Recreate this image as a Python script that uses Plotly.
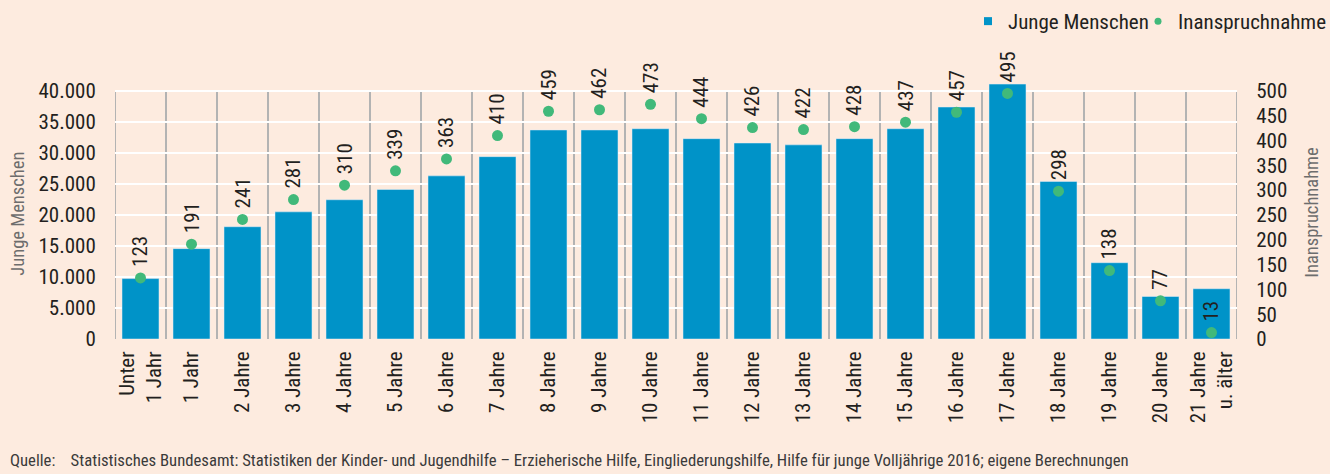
import plotly.graph_objects as go

categories = ["Unter<br>1 Jahr", "1 Jahr", "2 Jahre", "3 Jahre", "4 Jahre", "5 Jahre",
              "6 Jahre", "7 Jahre", "8 Jahre", "9 Jahre", "10 Jahre", "11 Jahre",
              "12 Jahre", "13 Jahre", "14 Jahre", "15 Jahre", "16 Jahre", "17 Jahre",
              "18 Jahre", "19 Jahre", "20 Jahre", "21 Jahre<br>u. älter"]
junge_menschen = [9740, 14570, 18100, 20500, 22450, 24100, 26300, 29400, 33700, 33700,
                  33900, 32300, 31600, 31300, 32300, 33900, 37400, 41100, 25400, 12300,
                  6850, 8100]
inanspruchnahme = [123, 191, 241, 281, 310, 339, 363, 410, 459, 462, 473, 444, 426, 422,
                   428, 437, 457, 495, 298, 138, 77, 13]
left_ticks = [0, 5000, 10000, 15000, 20000, 25000, 30000, 35000, 40000]
left_tick_text = ["0", "5.000", "10.000", "15.000", "20.000", "25.000", "30.000", "35.000", "40.000"]
right_ticks = [0, 50, 100, 150, 200, 250, 300, 350, 400, 450, 500]

FONT = "Liberation Sans Narrow, Arial Narrow, Roboto Condensed, DejaVu Sans Condensed, sans-serif"
BG = "#fdebdf"
BLUE = "#0093c8"
GREEN = "#41b97a"
TXT = "#231f20"

fig = go.Figure()
fig.add_trace(go.Bar(x=categories, y=junge_menschen, marker_color=BLUE, width=0.725,
                     showlegend=False, yaxis="y", hoverinfo="skip"))
fig.add_trace(go.Scatter(x=categories, y=inanspruchnahme, mode="markers", yaxis="y2",
                         marker=dict(color=GREEN, size=11), showlegend=False, hoverinfo="skip"))
# legend entries
fig.add_trace(go.Scatter(x=[None], y=[None], mode="markers", name="Junge Menschen",
                         legend="legend",
                         marker=dict(color=BLUE, size=8, symbol="square")))
fig.add_trace(go.Scatter(x=[None], y=[None], mode="markers", name="Inanspruchnahme",
                         legend="legend2",
                         marker=dict(color=GREEN, size=7, symbol="circle")))

# category separators
for i in range(len(categories) + 1):
    fig.add_shape(type="line", xref="x", yref="y", x0=i - 0.5, x1=i - 0.5,
                  y0=0, y1=left_ticks[-1], line=dict(color="#b3b3b3", width=2), layer="below")

# data labels
for c, v in zip(categories, inanspruchnahme):
    fig.add_annotation(x=c, y=v, yref="y2", text=str(v), textangle=-90, showarrow=False,
                       xanchor="center", yanchor="bottom", yshift=9,
                       font=dict(family=FONT, size=21, color=TXT))

# axis titles
fig.add_annotation(xref="paper", yref="paper", x=-0.0865, y=0.426, text="Junge Menschen",
                   textangle=-90, showarrow=False, xanchor="center", yanchor="middle",
                   font=dict(family=FONT, size=18.5, color="#6d6d6d"))
fig.add_annotation(xref="paper", yref="paper", x=1.0668, y=0.4295, text="Inanspruchnahme",
                   textangle=-90, showarrow=False, xanchor="center", yanchor="middle",
                   font=dict(family=FONT, size=18.5, color="#6d6d6d"))
# source
fig.add_annotation(xref="paper", yref="paper", x=-0.0954, y=-0.4126, xanchor="left", yanchor="middle",
                   text="Quelle:    Statistisches Bundesamt: Statistiken der Kinder- und Jugendhilfe – Erzieherische Hilfe, Eingliederungshilfe, Hilfe für junge Volljährige 2016; eigene Berechnungen",
                   showarrow=False, font=dict(family=FONT, size=16.7, color="#3a3a3a"))

legend_common = dict(orientation="h", xanchor="left", y=1.08, yanchor="middle",
                     font=dict(size=21, color=TXT), bgcolor="rgba(0,0,0,0)", itemwidth=30)

fig.update_layout(
    width=1330, height=474,
    margin=dict(l=115, r=93, t=45, b=134.5, autoexpand=False),
    paper_bgcolor=BG, plot_bgcolor=BG,
    font=dict(family=FONT, size=21, color=TXT),
    hovermode=False,
    xaxis=dict(type="category", range=[-0.5, len(categories) - 0.5], autorange=False,
               automargin=False, tickangle=-90, showgrid=False, zeroline=False, showline=False,
               ticks="outside", ticklen=3, tickcolor=BG, tickfont=dict(size=21, color=TXT)),
    yaxis=dict(range=[0, 47400], autorange=False, automargin=False, tickvals=left_ticks,
               ticktext=left_tick_text,
               showgrid=True, gridcolor="white", gridwidth=1.5, zeroline=False, showline=False,
               ticks="outside", ticklen=14, tickcolor=BG, tickfont=dict(size=21, color=TXT)),
    yaxis2=dict(range=[0, 592.5], autorange=False, automargin=False, tickvals=right_ticks,
                overlaying="y", side="right",
                showgrid=False, zeroline=False, showline=False,
                ticks="outside", ticklen=14, tickcolor=BG, tickfont=dict(size=21, color=TXT)),
    legend=dict(legend_common, x=(968 - 115) / 1122),
    legend2=dict(legend_common, x=(1138 - 115) / 1122),
)

fig.write_html("out.html", config={"displayModeBar": False},
               post_script="document.body.style.margin='0';document.body.style.overflow='hidden';")
